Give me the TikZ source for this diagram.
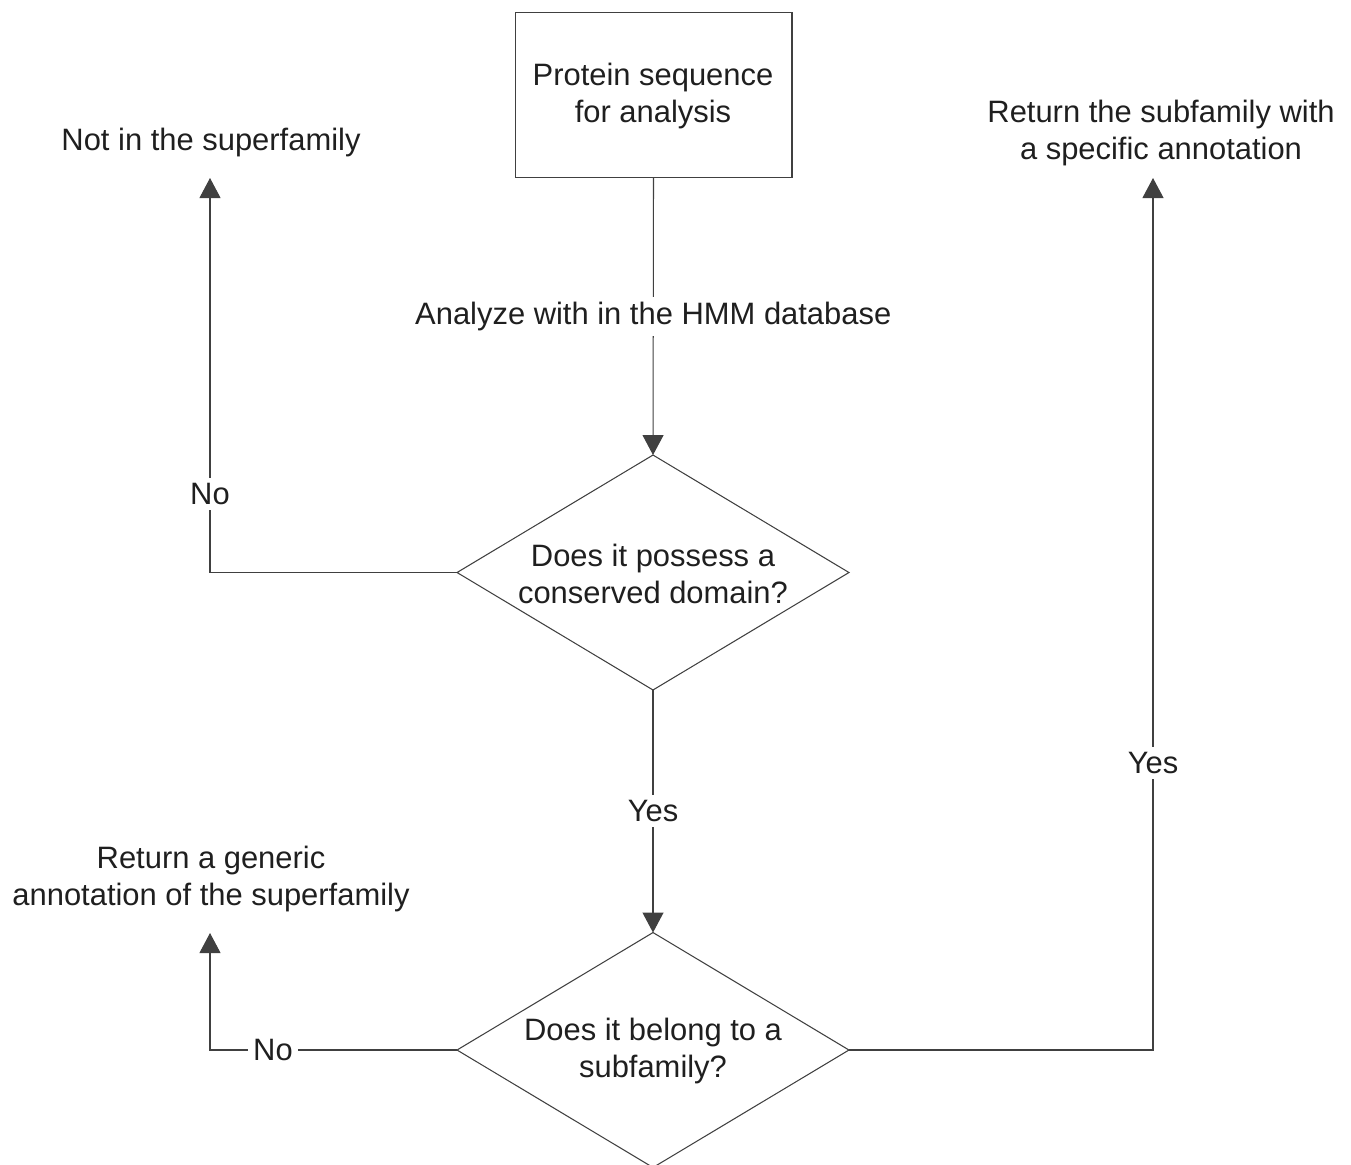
\documentclass[tikz,border=0pt]{standalone}
\usepackage{fontspec}
\setmainfont{Liberation Sans}
\usetikzlibrary{shapes.geometric,arrows.meta}
\begin{document}
\begin{tikzpicture}[x=0.02cm,y=-0.02cm,
  every node/.style={font=\fontsize{17.6}{21.2}\selectfont, text=black!88, align=center},
  line/.style={draw=black!75, line width=0.6pt},
  arr/.style={line, -{Triangle[length=0.4cm,width=0.42cm]}},
  boxnode/.style={draw=black!75, line width=0.6pt, minimum width=5.54cm, minimum height=3.3cm, inner sep=0pt},
  decision/.style={diamond, draw=black!75, line width=0.6pt, minimum width=7.84cm, minimum height=4.7cm, inner sep=0pt, outer sep=0pt},
  lbl/.style={fill=white, inner sep=3pt},
  txt/.style={inner sep=0pt}]
\useasboundingbox (0,0) rectangle (1351,1164);
\node[boxnode] (start) at (653.5,95) {};
\node[txt] (startt) at (653,96) {Protein sequence\\for analysis};
\node[decision] (d1) at (653,572.5) {};
\node[txt] (d1t) at (653,574) {Does it possess a\\conserved domain?};
\node[decision] (d2) at (653,1050) {};
\node[txt] (d2t) at (653,1051) {Does it belong to a\\subfamily?};
\node[txt] (notin) at (211,142) {Not in the superfamily};
\node[txt] (retsub) at (1161,133) {Return the subfamily with\\a specific annotation};
\node[txt] (retgen) at (211,879) {Return a generic\\annotation of the superfamily};
\coordinate (tl) at (210,178);
\coordinate (tr) at (1153,178);
\coordinate (tg) at (210,933);
\coordinate (c1) at (210,572.5);
\coordinate (c2) at (210,1050);
\coordinate (c3) at (1153,1050);
\draw[arr] (start.south) -- node[lbl, pos=0.5] (a1) {Analyze with in the HMM database} (d1.north);
\draw[arr] (d1.west) -- (c1) -- node[lbl, pos=0.2] (n1) {No} (tl);
\draw[arr] (d1.south) -- node[lbl, pos=0.5] (y1) {Yes} (d2.north);
\draw[arr] (d2.west) -- node[lbl, pos=0.745] (n2) {No} (c2) -- (tg);
\draw[arr] (d2.east) -- (c3) -- node[lbl, pos=0.329] (y2) {Yes} (tr);
\end{tikzpicture}
\end{document}
